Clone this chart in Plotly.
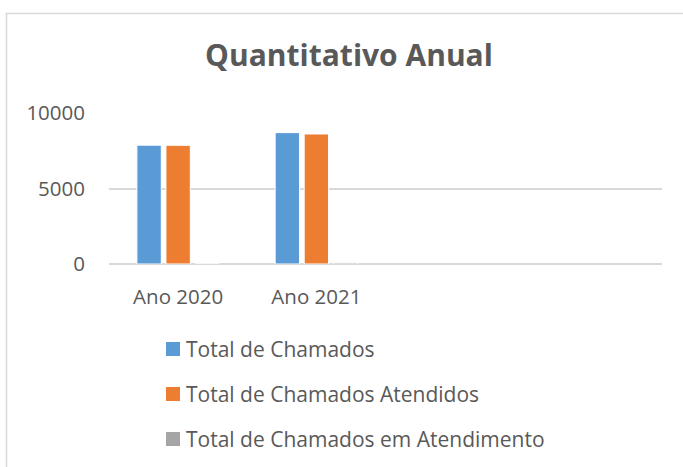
import plotly.graph_objects as go

categories = ["Ano 2020", "Ano 2021"]
series_names = ["Total de Chamados", "Total de Chamados Atendidos", "Total de Chamados em Atendimento"]
total_chamados = [7870, 8700]
total_atendidos = [7860, 8610]
total_em_atendimento = [0, 80]
colors = ["#5B9BD5", "#ED7D31", "#A5A5A5"]
y_ticks = [0, 5000, 10000]

FONT = "Open Sans"
TXT = "#595959"

W, H = 683, 467
L, R, T, B = 109, 21, 113, 203
pw = W - L - R
ph = H - T - B


def px(xp):
    return (xp - L) / pw


def py(yp):
    return (H - B - yp) / ph


fig = go.Figure()
for name, vals, col in zip(series_names, [total_chamados, total_atendidos, total_em_atendimento], colors):
    fig.add_trace(go.Bar(
        x=categories, y=vals, name=name, showlegend=False,
        marker=dict(color=col, line=dict(color="white", width=1)),
    ))

# manual legend (Excel-like spacing)
shapes = []
annotations = []
legend_y = [349, 394, 439]
for name, col, yc in zip(series_names, colors, legend_y):
    shapes.append(dict(type="rect", xref="paper", yref="paper",
                       x0=px(166), x1=px(180), y0=py(yc + 7), y1=py(yc - 7),
                       fillcolor=col, line=dict(width=0)))
    annotations.append(dict(text=name, xref="paper", yref="paper", x=px(184), y=py(yc),
                            xanchor="left", yanchor="middle", showarrow=False,
                            font=dict(family=FONT, size=21, color=TXT)))

shapes.append(dict(type="rect", xref="paper", yref="paper",
                   x0=px(6.5), x1=px(W + 5), y0=py(H + 5), y1=py(13.5),
                   line=dict(color="#D9D9D9", width=1.5), fillcolor="rgba(0,0,0,0)", layer="below"))

fig.update_layout(
    width=W, height=H,
    margin=dict(l=L, r=R, t=T, b=B, pad=0),
    paper_bgcolor="white", plot_bgcolor="white",
    barmode="group", bargap=0.37, bargroupgap=0.16,
    title=dict(text="<b>Quantitativo Anual</b>", x=349 / W, xanchor="center",
               y=1 - 55 / H, yanchor="middle",
               font=dict(family=FONT, size=30, color=TXT)),
    font=dict(family=FONT, size=20.5, color=TXT),
    showlegend=False,
    xaxis=dict(type="category", range=[-0.5, 3.5], showgrid=False, showline=False,
               ticks="", tickfont=dict(family=FONT, size=20.5, color=TXT), ticklabelstandoff=18),
    yaxis=dict(range=[0, 10000], tickvals=y_ticks, ticktext=[str(v) for v in y_ticks],
               showgrid=True, gridcolor="#D9D9D9", gridwidth=1.5,
               zeroline=True, zerolinecolor="#D9D9D9", zerolinewidth=1.5,
               showline=False, ticks="", ticklabelstandoff=23,
               tickfont=dict(family=FONT, size=20.5, color=TXT)),
    shapes=shapes,
    annotations=annotations,
)

fig.write_html("out.html", config={"displayModeBar": False},
               post_script="document.body.style.margin='0';document.body.style.overflow='hidden';")
